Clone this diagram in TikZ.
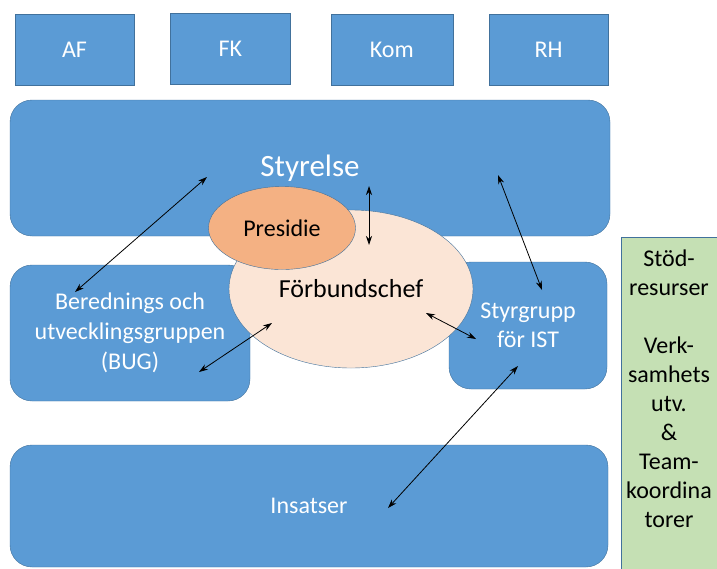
\documentclass[tikz,border=0pt]{standalone}
\usepackage{fontspec}
\setmainfont{Carlito}
\usetikzlibrary{positioning}
\usetikzlibrary{shapes.geometric}
\usetikzlibrary{arrows.meta}
\definecolor{blaa}{HTML}{5B9BD5}
\definecolor{kant}{HTML}{41719C}
\definecolor{persika}{HTML}{FBE5D6}
\definecolor{presfarg}{HTML}{F4B183}
\definecolor{groen}{HTML}{C5E0B4}
\begin{document}
\begin{tikzpicture}[x=1pt, y=-1pt,
        every node/.style={font=\fontsize{24}{29}\selectfont, inner sep=0pt},
        ruta/.style={draw=kant, fill=blaa, text=white, minimum height=71pt},
        grupp/.style={draw=kant, fill=blaa, text=white, rounded corners=22pt, align=center},
        bubbla/.style={ellipse, draw=kant, text=black},
        pil/.style={{Stealth[length=9pt,width=6pt]}-{Stealth[length=9pt,width=6pt]}, line width=0.8pt}]
    \useasboundingbox (0,0) rectangle (717,568);

    \node[ruta, minimum width=119pt] (af) at (74.5,49.5) {AF};
    \node[ruta, minimum width=120pt, right=36pt of af, yshift=1pt] (fk) {FK};
    \node[ruta, minimum width=122pt, right=40pt of fk, yshift=-1pt] (kom) {Kom};
    \node[ruta, minimum width=119pt, right=36pt of kom] (rh) {RH};

    \node[grupp, minimum width=600pt, minimum height=136pt,
          font=\fontsize{31}{36}\selectfont] (styrelse) at (310,168) {Styrelse};
    \node[grupp, minimum width=240pt, minimum height=136pt,
          font=\fontsize{24}{30}\selectfont] (bug) at (130,333)
          {Berednings och\\utvecklingsgruppen\\(BUG)};
    \node[grupp, minimum width=158pt, minimum height=127pt] (ist) at (528,325.5)
          {Styrgrupp\\för IST};
    \node[grupp, minimum width=598pt, minimum height=122pt] (insatser) at (309,506) {Insatser};

    % stödresurser
    \node[draw=kant, fill=groen, minimum width=100pt, minimum height=340pt] (stod) at (671,407) {};
    \node[below=13pt of stod.north, xshift=-2pt, align=center] (stodtext)
          {Stöd-\\resurser\\[29pt]Verk-\\samhets\\utv.\\\&\\Team-\\koordina\\torer};

    \node[bubbla, fill=persika, minimum width=244pt, minimum height=158pt,
          font=\fontsize{26}{30}\selectfont] (chef) at (351,289) {Förbundschef};
    \node[bubbla, fill=presfarg, minimum width=147pt, minimum height=83pt] (presidie) at (282,228) {Presidie};

    \coordinate (s1) at (207,177);
    \coordinate (b1) at (75,292);
    \coordinate (s2) at (369,186);
    \coordinate (c1) at (369,245);
    \coordinate (s3) at (498,175);
    \coordinate (i1) at (542,290);
    \coordinate (c2) at (272,323);
    \coordinate (b2) at (199,372);
    \coordinate (c3) at (426,313);
    \coordinate (i2) at (476,339);
    \coordinate (i3) at (518,366);
    \coordinate (n1) at (388,508);

    \draw[pil] (s1) -- (b1);
    \draw[pil] (s2) -- (c1);
    \draw[pil] (s3) -- (i1);
    \draw[pil] (c2) -- (b2);
    \draw[pil] (c3) -- (i2);
    \draw[pil] (i3) -- (n1);
\end{tikzpicture}
\end{document}
